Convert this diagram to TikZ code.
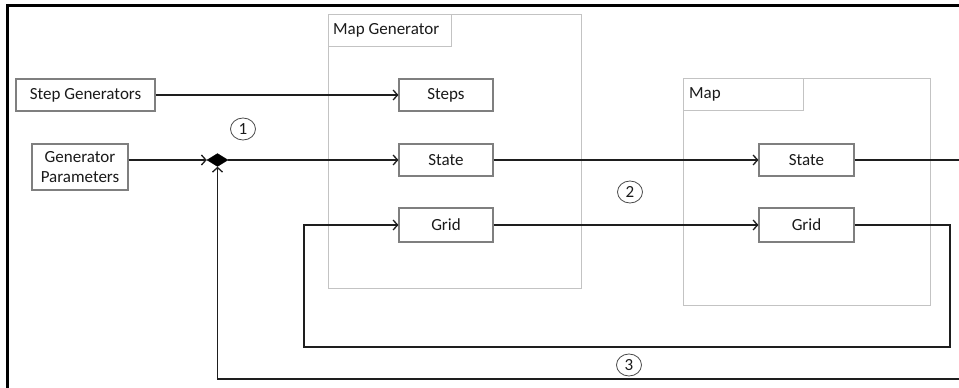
\documentclass[tikz,border=0pt]{standalone}
\usepackage{fontspec}
\setmainfont{Carlito}
\usetikzlibrary{arrows.meta,shapes.geometric}
\definecolor{boxline}{HTML}{7F7F7F}
\definecolor{panelline}{HTML}{C3C3C3}
\definecolor{wire}{HTML}{1E1E1E}
\definecolor{ink}{HTML}{1A1A1A}
\begin{document}
\begin{tikzpicture}[x=1pt,y=-1pt,
  every node/.style={font=\fontsize{17}{20}\selectfont, text=ink},
  blockbox/.style={draw=boxline, line width=1.1pt, fill=white, minimum height=32pt, inner sep=0pt},
  panel/.style={draw=panelline, line width=1pt},
  tabtext/.style={anchor=west, inner sep=0pt},
  badge/.style={draw=ink!80, line width=0.8pt, ellipse, minimum width=25pt, minimum height=22pt, inner sep=0pt},
  wireline/.style={draw=wire, line width=1.4pt},
  flow/.style={wireline, -{Straight Barb[length=4.5pt,width=10pt,line width=1.3pt]}}
]
\useasboundingbox (0,0) rectangle (959,388);

% outer frame
\draw[black, line width=3pt] (7,388) -- (7,5) -- (959,5);

% Map Generator panel
\draw[panel] (328,14) rectangle (581,288);
\draw[panel] (328,14) rectangle (451,46);
\node[tabtext] (mgtitle) at (333,30) {Map Generator};

% Map panel
\draw[panel] (683,78) rectangle (930,305);
\draw[panel] (683,78) rectangle (803,110);
\node[tabtext] (maptitle) at (689,94) {Map};

% blocks
\node[blockbox, minimum width=139pt] (sg) at (85.5,95) {Step Generators};
\node[blockbox, minimum width=96pt, minimum height=46pt, align=center] (gp) at (80,167) {Generator\\Parameters};

\node[blockbox, minimum width=94pt] (steps) at (446,95) {Steps};
\node[blockbox, minimum width=94pt] (gstate) at (446,160) {State};
\node[blockbox, minimum width=94pt, minimum height=34pt] (ggrid) at (446,225) {Grid};

\node[blockbox, minimum width=95pt] (mstate) at (806.5,160) {State};
\node[blockbox, minimum width=95pt, minimum height=34pt] (mgrid) at (806.5,225) {Grid};

% junction
\node[diamond, fill=black, draw=black, minimum width=21pt, minimum height=13pt, inner sep=0pt] (dm) at (217.5,160) {};

% numbered markers
\node[badge] (n1) at (243,129) {1};
\node[badge] (n2) at (630,192) {2};
\node[badge] (n3) at (629,365) {3};

% loop corners and open ends
\coordinate (stateout) at (959,160);
\coordinate (gridturn) at (950,225);
\coordinate (gridlow) at (950,347);
\coordinate (gridback) at (304,347);
\coordinate (gridup) at (304,225);
\coordinate (feedin) at (959,379);
\coordinate (feedturn) at (217.5,379);

% connectors
\draw[flow] (sg.east) -- (steps.west);
\draw[flow] (gp.east |- dm.west) -- (dm.west);
\draw[flow] (dm.east) -- (gstate.west);
\draw[flow] (gstate.east) -- (mstate.west);
\draw[wireline] (mstate.east) -- (stateout);
\draw[flow] (ggrid.east) -- (mgrid.west);
\draw[flow] (mgrid.east) -- (gridturn) -- (gridlow) -- (gridback) -- (gridup) -- (ggrid.west);
\draw[flow] (feedin) -- (feedturn) -- (dm.south);
\end{tikzpicture}
\end{document}
